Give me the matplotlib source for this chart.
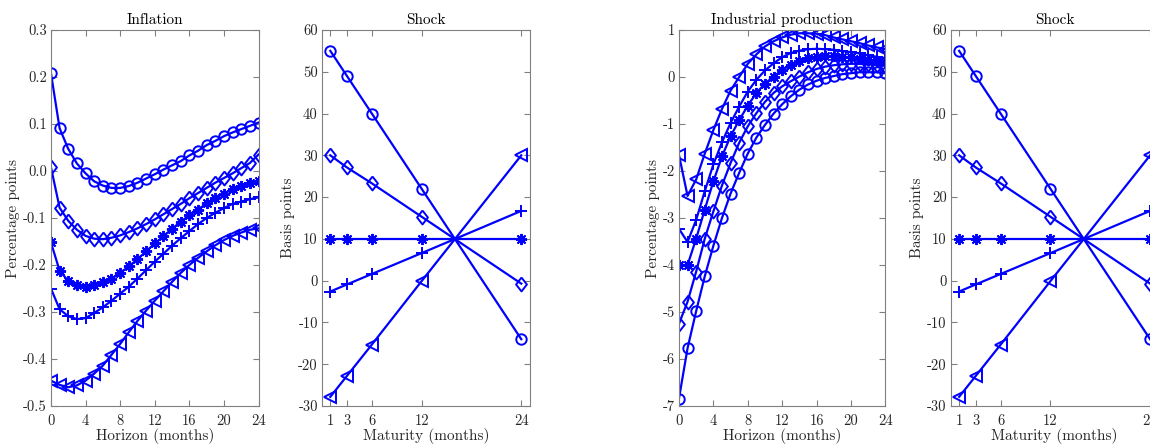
import numpy as np
import matplotlib
matplotlib.use("Agg")
import matplotlib.pyplot as plt

plt.rcParams['font.family'] = ['cmr10', 'DejaVu Serif']
plt.rcParams['axes.unicode_minus'] = False
plt.rcParams['axes.formatter.use_mathtext'] = False

horizon = np.arange(25)
maturity = [1, 3, 6, 12, 24]

# Inflation responses (percentage points), one list per shock shape
infl_circle = [0.208, 0.091, 0.047, 0.016, -0.005, -0.022, -0.031, -0.036, -0.036, -0.032,
               -0.025, -0.016, -0.007, 0.003, 0.012, 0.021, 0.033, 0.043, 0.055, 0.064,
               0.074, 0.082, 0.089, 0.096, 0.103]
infl_diamond = [0.008, -0.078, -0.106, -0.125, -0.138, -0.144, -0.145, -0.142, -0.137, -0.130,
                -0.122, -0.113, -0.103, -0.092, -0.081, -0.070, -0.058, -0.047, -0.036, -0.025,
                -0.015, -0.005, 0.006, 0.017, 0.035]
infl_star = [-0.152, -0.212, -0.234, -0.243, -0.246, -0.243, -0.237, -0.229, -0.217, -0.203,
             -0.188, -0.171, -0.154, -0.139, -0.123, -0.108, -0.094, -0.082, -0.069, -0.058,
             -0.048, -0.039, -0.031, -0.025, -0.022]
infl_plus = [-0.250, -0.294, -0.309, -0.315, -0.313, -0.302, -0.290, -0.276, -0.261, -0.246,
             -0.229, -0.211, -0.193, -0.176, -0.159, -0.143, -0.128, -0.113, -0.100, -0.089,
             -0.079, -0.070, -0.065, -0.060, -0.056]
infl_tri = [-0.446, -0.455, -0.460, -0.456, -0.446, -0.431, -0.414, -0.391, -0.368, -0.343,
            -0.319, -0.297, -0.276, -0.256, -0.236, -0.217, -0.200, -0.185, -0.171, -0.158,
            -0.147, -0.138, -0.131, -0.125, -0.122]

# Industrial production responses (percentage points)
ip_circle = [-6.84, -5.77, -4.98, -4.24, -3.59, -3.00, -2.48, -2.04, -1.63, -1.29,
             -1.02, -0.78, -0.58, -0.41, -0.27, -0.16, -0.08, -0.02, 0.02, 0.06,
             0.08, 0.10, 0.10, 0.10, 0.08]
ip_diamond = [-5.25, -4.78, -4.14, -3.44, -2.86, -2.31, -1.83, -1.40, -1.05, -0.77,
              -0.53, -0.34, -0.20, -0.09, 0.01, 0.10, 0.17, 0.22, 0.25, 0.27,
              0.28, 0.28, 0.27, 0.25, 0.24]
ip_star = [-4.00, -4.00, -3.44, -2.82, -2.22, -1.69, -1.26, -0.92, -0.61, -0.34,
           -0.14, 0.01, 0.15, 0.26, 0.34, 0.40, 0.43, 0.45, 0.45, 0.43,
           0.42, 0.39, 0.36, 0.34, 0.31]
ip_plus = [-3.23, -3.51, -3.04, -2.43, -1.86, -1.39, -0.98, -0.63, -0.31, -0.06,
           0.14, 0.29, 0.42, 0.51, 0.56, 0.59, 0.60, 0.59, 0.58, 0.55,
           0.53, 0.50, 0.46, 0.43, 0.40]
ip_tri = [-1.66, -2.53, -2.18, -1.63, -1.13, -0.68, -0.29, 0.00, 0.28, 0.48,
          0.65, 0.76, 0.84, 0.90, 0.93, 0.93, 0.92, 0.89, 0.84, 0.80,
          0.76, 0.72, 0.67, 0.63, 0.59]

# Yield curve shocks (basis points) at each maturity
shock_circle = [55, 49, 40, 22, -14]
shock_diamond = [30, 27.1, 23.3, 15.3, -0.7]
shock_star = [10, 10, 10, 10, 10]
shock_plus = [-2.6, -0.9, 1.6, 6.6, 16.7]
shock_tri = [-27.8, -22.8, -15.3, -0.1, 30]

# matlab-ish diamond (a bit wider than matplotlib's 'd')
diamond = [(0, 1), (0.78, 0), (0, -1), (-0.78, 0), (0, 1)]
markers = [('o', 7.5), (diamond, 10), ((8, 2, 0), 8), ('+', 8), ('<', 8)]
infl = [infl_circle, infl_diamond, infl_star, infl_plus, infl_tri]
ip = [ip_circle, ip_diamond, ip_star, ip_plus, ip_tri]
shocks = [shock_circle, shock_diamond, shock_star, shock_plus, shock_tri]

fig = plt.figure(figsize=(11.5, 4.44), dpi=100)
bottom, height = 0.0855, 0.847
w = 0.1805
ax1 = fig.add_axes([0.0443, bottom, w, height])
ax2 = fig.add_axes([0.2800, bottom, w, height])
ax3 = fig.add_axes([0.5904, bottom, w - 0.001, height])
ax4 = fig.add_axes([0.8268, bottom, w, height])

gray = (0.15, 0.15, 0.15)
fs = 11


def style(ax):
    for s in ax.spines.values():
        s.set_color((0.5, 0.5, 0.5))
        s.set_linewidth(0.8)
    ax.tick_params(direction='in', top=True, right=True, length=4, width=0.8,
                   color=(0.5, 0.5, 0.5), labelcolor=gray, labelsize=10.5, pad=3)
    ax.tick_params(axis='x', pad=6)


def draw(ax, x, series):
    for y, (m, ms) in zip(series, markers):
        ax.plot(x, y, color='blue', linewidth=1.6, marker=m, markersize=ms,
                markerfacecolor='none', markeredgecolor='blue', markeredgewidth=1.4)


draw(ax1, horizon, infl)
ax1.set_xlim(0, 24)
ax1.set_ylim(-0.5, 0.3)
ax1.set_xticks(range(0, 25, 4))
ax1.set_yticks(np.round(np.arange(-0.5, 0.31, 0.1), 1))
ax1.set_title('Inflation', fontsize=fs, pad=4)
ax1.set_xlabel('Horizon (months)', fontsize=fs, labelpad=0, color=gray)
ax1.set_ylabel('Percentage points', fontsize=fs, labelpad=2, color=gray)

draw(ax3, horizon, ip)
ax3.set_xlim(0, 24)
ax3.set_ylim(-7, 1)
ax3.set_xticks(range(0, 25, 4))
ax3.set_yticks(range(-7, 2))
ax3.set_title('Industrial production', fontsize=fs, pad=4)
ax3.set_xlabel('Horizon (months)', fontsize=fs, labelpad=0, color=gray)
ax3.set_ylabel('Percentage points', fontsize=fs, labelpad=2, color=gray)

for ax in (ax2, ax4):
    draw(ax, maturity, shocks)
    ax.set_xlim(0, 25)
    ax.set_ylim(-30, 60)
    ax.set_xticks(maturity)
    ax.set_yticks(range(-30, 61, 10))
    ax.set_title('Shock', fontsize=fs, pad=4)
    ax.set_xlabel('Maturity (months)', fontsize=fs, labelpad=0, color=gray)
    ax.set_ylabel('Basis points', fontsize=fs, labelpad=2, color=gray)

for ax in (ax1, ax2, ax3, ax4):
    style(ax)

fig.savefig('out.png', dpi=100)
